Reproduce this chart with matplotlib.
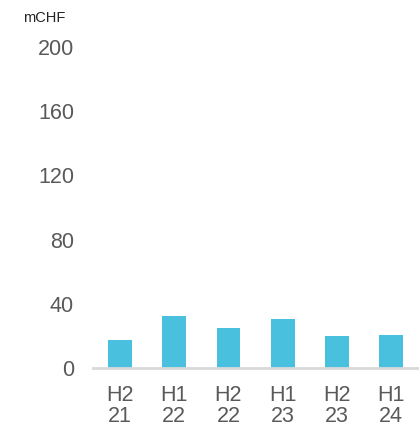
import matplotlib
matplotlib.use("Agg")
import matplotlib.pyplot as plt

# datos
periodos = ["H2\n21", "H1\n22", "H2\n22", "H1\n23", "H2\n23", "H1\n24"]
valores = [17.5, 32.2, 24.9, 30.5, 20.1, 20.7]
y_ticks = [0, 40, 80, 120, 160, 200]

plt.rcParams["font.family"] = ["Liberation Sans", "DejaVu Sans"]

fig = plt.figure(figsize=(4.19, 4.32), dpi=100)
ax = fig.add_axes([0.2215, 0.148, 0.777, 0.743])

x = range(len(periodos))
ax.bar(x, valores, width=0.44, color="#48C0DE", zorder=2)

ax.set_xlim(-0.5, len(periodos) - 0.5)
ax.set_ylim(0, 200)
ax.set_yticks(y_ticks)
ax.set_xticks(list(x))
ax.set_xticklabels(periodos, linespacing=1.0)

ax.tick_params(axis="y", length=0, pad=13.5, labelsize=15.5, labelcolor="#595959")
ax.tick_params(axis="x", length=0, pad=12.5, labelsize=15.5, labelcolor="#595959")

for s in ["top", "right", "left"]:
    ax.spines[s].set_visible(False)
ax.spines["bottom"].set_color("#D9D9D9")
ax.spines["bottom"].set_linewidth(2)
ax.spines["bottom"].set_zorder(3)

fig.text(0.055, 0.958, "mCHF", fontsize=10.5, color="#222222", va="center", ha="left")

fig.savefig("out.png", dpi=100)
